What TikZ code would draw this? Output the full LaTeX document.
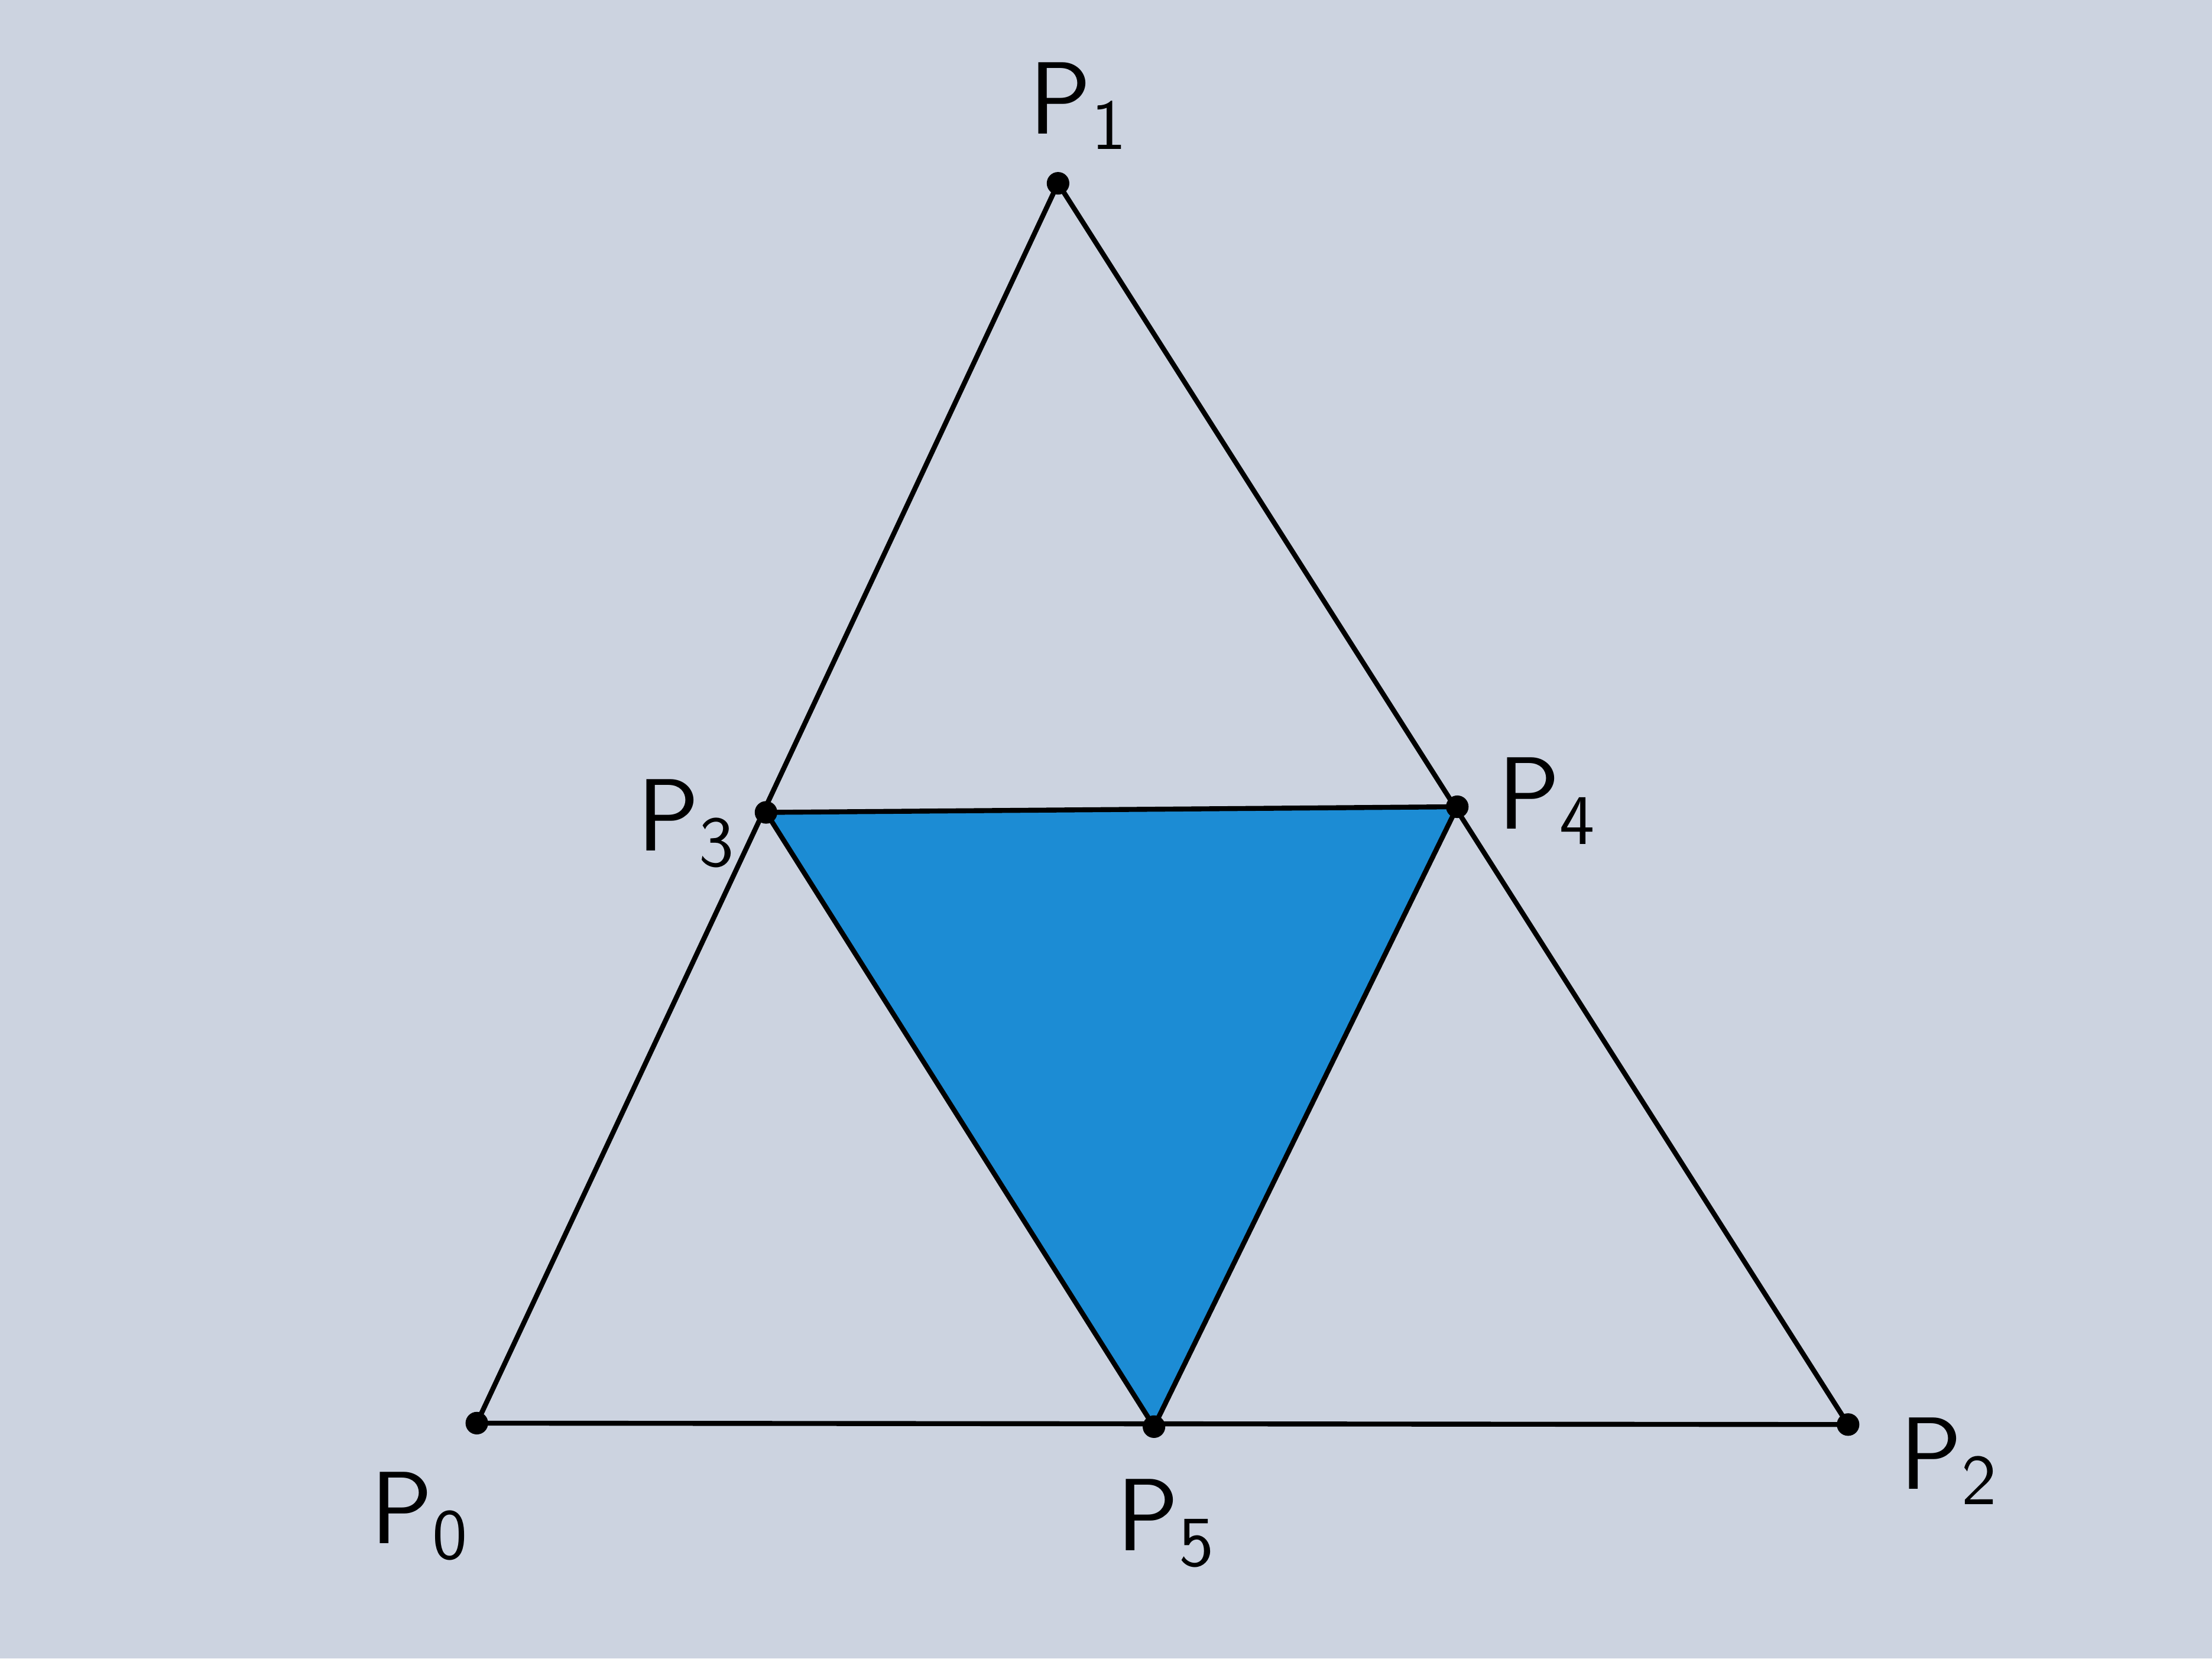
\documentclass[tikz,border=0pt]{standalone}
\usepackage{tikz}

\definecolor{paper}{RGB}{204,211,224}
\definecolor{marker}{RGB}{28,140,212}

\begin{document}
\begin{tikzpicture}[
        dot/.style={circle, fill=black, inner sep=0pt, minimum size=0.16cm},
        lbl/.style={font=\huge\sffamily},
        line width=1pt
        ]
        \fill[paper] (0,0) rectangle (15.68,11.76);
        \useasboundingbox (0,0) rectangle (15.68,11.76);

        \foreach \n/\x/\y in {0/3.38/1.67,1/7.50/10.46,2/13.10/1.66,3/5.43/6.00,4/10.33/6.04,5/8.18/1.645} {
          \coordinate (p\n) at (\x,\y);
        }

        \fill[marker] (p3) -- (p4) -- (p5) -- cycle;
        \draw (p0) -- (p1) -- (p2) -- cycle;
        \draw (p3) -- (p4) -- (p5) -- cycle;

        \foreach \n in {0,...,5} {
          \node[dot] (d\n) at (p\n) {};
        }

        \node[lbl] (l0) at (2.98,1.01) {P\textsubscript{0}};
        \node[lbl] (l1) at (7.65,11.01) {P\textsubscript{1}};
        \node[lbl] (l2) at (13.82,1.40) {P\textsubscript{2}};
        \node[lbl] (l3) at (4.87,5.92) {P\textsubscript{3}};
        \node[lbl] (l4) at (10.97,6.08) {P\textsubscript{4}};
        \node[lbl] (l5) at (8.27,0.96) {P\textsubscript{5}};
      \end{tikzpicture}
\end{document}
